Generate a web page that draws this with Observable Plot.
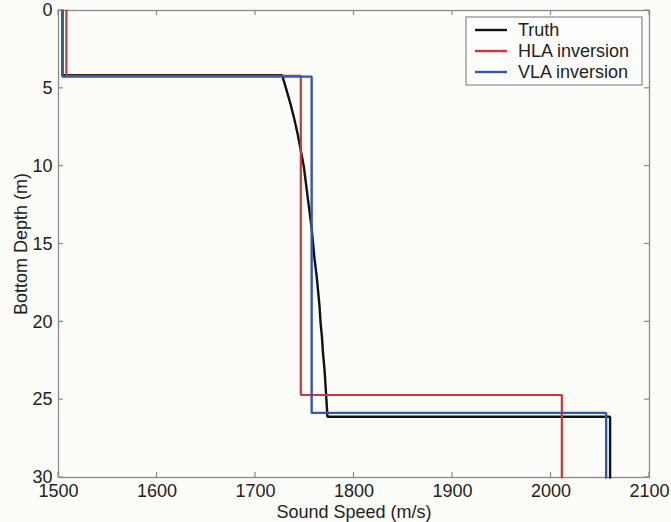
<!DOCTYPE html>
<html><head><meta charset="utf-8">
<script src="https://cdn.jsdelivr.net/npm/d3@7"></script>
<script src="https://cdn.jsdelivr.net/npm/@observablehq/plot@0.6"></script>
<style>
body{margin:0;background:#fcfcf8;}
svg{display:block}
</style>
</head><body><div id="chart"></div>
<script>
// Tick labels
const xTicks = [1500, 1600, 1700, 1800, 1900, 2000, 2100];
const yTicks = [0, 5, 10, 15, 20, 25, 30];

// Truth profile (depth m, sound speed m/s)
const truthDepth = [0, 4.15, 4.15, 5, 6, 7, 8, 9, 10, 11, 12, 13, 14, 15, 16, 17, 18, 19, 20, 21, 22, 23, 24, 25, 26.1, 26.1, 30];
const truthSpeed = [1504, 1504, 1727, 1731, 1735.5, 1739.5, 1743, 1746, 1749, 1751, 1753, 1755, 1757, 1758.5, 1760, 1762, 1763.5, 1765, 1766, 1767.5, 1768.5, 1770, 1771, 1772, 1773, 2060, 2060];

// HLA inversion
const hlaDepth = [0, 4.2, 4.2, 24.7, 24.7, 30];
const hlaSpeed = [1508, 1508, 1746, 1746, 2011, 2011];

// VLA inversion
const vlaDepth = [0, 4.25, 4.25, 25.85, 25.85, 30];
const vlaSpeed = [1504, 1504, 1757, 1757, 2056, 2056];

const seriesNames = ["Truth", "HLA inversion", "VLA inversion"];
const seriesColors = ["#111111", "#c8383a", "#3558a8"];

(function () {
const toRows = (depths, speeds, name) => depths.map((d, i) => ({depth: d, speed: speeds[i], series: name}));
const truth = toRows(truthDepth, truthSpeed, seriesNames[0]);
const hla = toRows(hlaDepth, hlaSpeed, seriesNames[1]);
const vla = toRows(vlaDepth, vlaSpeed, seriesNames[2]);

const bg = "#fcfcf8";
const axisColor = "#8a8a8a";
const font = "'Liberation Sans', Arial, Helvetica, sans-serif";

const plot = Plot.plot({
  width: 671,
  height: 522,
  marginLeft: 58,
  marginRight: 22,
  marginTop: 10,
  marginBottom: 45,
  style: {background: bg, fontFamily: font, fontSize: "18px", color: "#222"},
  x: {domain: [1500, 2100]},
  y: {domain: [0, 30], reverse: true},
  marks: [
    Plot.frame({stroke: axisColor, strokeWidth: 1.3}),
    Plot.axisX(xTicks, {tickSize: 0, tickPadding: 7, tickFormat: d3.format("d"), label: "Sound Speed (m/s)", labelAnchor: "center", labelArrow: "none", labelOffset: 40, fill: "#222"}),
    Plot.axisY(yTicks, {tickSize: 0, tickPadding: 6, tickFormat: d3.format("d"), label: "Bottom Depth (m)", labelAnchor: "center", labelArrow: "none", labelOffset: 44, fill: "#222"}),
    Plot.line(truth, {x: "speed", y: "depth", stroke: seriesColors[0], strokeWidth: 2.4, strokeLinejoin: "miter"}),
    Plot.line(hla, {x: "speed", y: "depth", stroke: seriesColors[1], strokeWidth: 2.2, strokeLinejoin: "miter"}),
    Plot.line(vla, {x: "speed", y: "depth", stroke: seriesColors[2], strokeWidth: 2.4, strokeLinejoin: "miter"})
  ]
});

document.getElementById("chart").appendChild(plot);

// Inward ticks on all four sides (MATLAB-style box)
const sx = plot.scale("x"), sy = plot.scale("y");
const svg = d3.select(plot);
const xL = sx.apply(1500), xR = sx.apply(2100), yT = sy.apply(0), yB = sy.apply(30);
const tl = 5;
const tg = svg.append("g").attr("stroke", axisColor).attr("stroke-width", 1.2);
xTicks.forEach(v => {
  const x = sx.apply(v);
  tg.append("line").attr("x1", x).attr("x2", x).attr("y1", yB).attr("y2", yB - tl);
  tg.append("line").attr("x1", x).attr("x2", x).attr("y1", yT).attr("y2", yT + tl);
});
yTicks.forEach(v => {
  const y = sy.apply(v);
  tg.append("line").attr("y1", y).attr("y2", y).attr("x1", xL).attr("x2", xL + tl);
  tg.append("line").attr("y1", y).attr("y2", y).attr("x1", xR).attr("x2", xR - tl);
});

// Legend box
const lg = svg.append("g").attr("font-family", font).attr("font-size", 18).attr("text-anchor", "start");
lg.append("rect").attr("x", 466).attr("y", 17).attr("width", 176).attr("height", 68)
  .attr("fill", "#fdfdfb").attr("stroke", axisColor).attr("stroke-width", 1.2);
seriesNames.forEach((name, i) => {
  const cy = 30 + i * 21;
  lg.append("line").attr("x1", 475).attr("x2", 507).attr("y1", cy).attr("y2", cy)
    .attr("stroke", seriesColors[i]).attr("stroke-width", 2.4);
  lg.append("text").attr("x", 518).attr("y", cy).attr("dy", "0.35em").attr("fill", "#222").text(name);
});
})();
</script>
</body></html>
